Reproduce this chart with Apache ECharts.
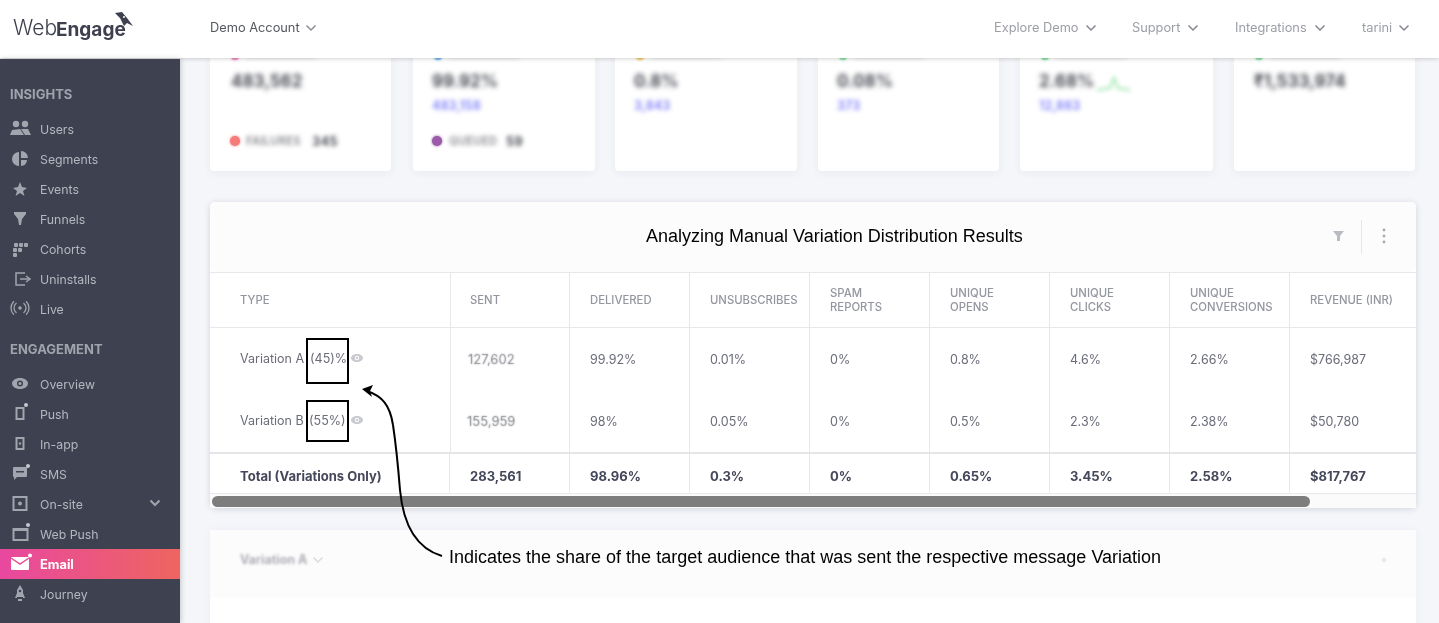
<!DOCTYPE html>
<html>
<head>
<meta charset="utf-8">
<title>Manual Variation Distribution</title>
<style>html,body{margin:0;padding:0;background:#f5f6fa}#main{width:1439px;height:623px}</style>
<script src="https://cdn.jsdelivr.net/npm/echarts@6/dist/echarts.min.js"></script>
</head>
<body>
<div id="main"></div>
<script>
// table data
var columns = [['TYPE'], ['SENT'], ['DELIVERED'], ['UNSUBSCRIBES'], ['SPAM', 'REPORTS'], ['UNIQUE', 'OPENS'], ['UNIQUE', 'CLICKS'], ['UNIQUE', 'CONVERSIONS'], ['REVENUE (INR)']];
var variationA = ['Variation A', '127,602', '99.92%', '0.01%', '0%', '0.8%', '4.6%', '2.66%', '$766,987'];
var variationB = ['Variation B', '155,959', '98%', '0.05%', '0%', '0.5%', '2.3%', '2.38%', '$50,780'];
var totals = ['Total (Variations Only)', '283,561', '98.96%', '0.3%', '0%', '0.65%', '3.45%', '2.58%', '$817,767'];
var shares = ['(45)%', '(55%)'];
var tableTitle = 'Analyzing Manual Variation Distribution Results';
var note = 'Indicates the share of the target audience that was sent the respective message Variation';

// menus
var insightsMenu = ['Users', 'Segments', 'Events', 'Funnels', 'Cohorts', 'Uninstalls', 'Live'];
var engagementMenu = ['Overview', 'Push', 'In-app', 'SMS', 'On-site', 'Web Push', 'Email', 'Journey'];
var topLinks = ['Explore Demo', 'Support', 'Integrations', 'tarini'];

// blurred summary cards
var cardValues = ['483,562', '99.92%', '0.8%', '0.08%', '2.68%', '₹1,533,974'];
var cardLinks = ['', '483,158', '3,843', '373', '12,863', ''];
var cardDots = ['#f48fc0', '#7db8f5', '#f5cf70', '#8fe0a8', '#8fe0a8', '#8fe0a8'];

var SANS = 'Inter, "Noto Sans", sans-serif';
var g = [];

function rect(x, y, w, h, fill, extra) {
    var st = { fill: fill };
    for (var k in (extra || {})) { if (k != 'r') st[k] = extra[k]; }
    g.push({ type: 'rect', shape: { x: x, y: y, width: w, height: h, r: extra && extra.r || 0 }, style: st });
}
function text(x, y, s, fill, font, align) {
    g.push({ type: 'text', style: { x: x, y: y + 1, text: s, fill: fill, font: font + ' ' + SANS, textAlign: align || 'left', verticalAlign: 'middle' } });
}
function arial(x, y, s, size) {
    g.push({ type: 'text', style: { x: x, y: y + 1, text: s, fill: '#000', font: size + 'px "Liberation Sans", Arial, sans-serif', textAlign: 'left', verticalAlign: 'middle' } });
}
// draws only the shadow of a text that sits off screen, which gives the blurred look
function blurred(x, y, s, fill, font, blur) {
    g.push({ type: 'text', style: { x: x - 3000, y: y + 1, text: s, fill: fill, font: font + ' ' + SANS, verticalAlign: 'middle',
        textShadowColor: fill, textShadowBlur: blur, textShadowOffsetX: 3000, textShadowOffsetY: 0 } });
}
function dot(x, y, r, fill, extra) {
    g.push({ type: 'circle', shape: { cx: x, cy: y, r: r }, style: Object.assign({ fill: fill }, extra || {}) });
}
function poly(pts, fill) {
    g.push({ type: 'polygon', shape: { points: pts }, style: { fill: fill } });
}
function stroke(pts, color, w) {
    g.push({ type: 'polyline', shape: { points: pts }, style: { stroke: color, lineWidth: w, fill: null } });
}
function chevron(x, y, color, w) {
    stroke([[x - 4.5, y - 2.5], [x, y + 2], [x + 4.5, y - 2.5]], color, w || 1.5);
}
function curve(a, c1, c2, b, color, w) {
    g.push({ type: 'bezierCurve', shape: { x1: a[0], y1: a[1], cpx1: c1[0], cpy1: c1[1], cpx2: c2[0], cpy2: c2[1], x2: b[0], y2: b[1] }, style: { stroke: color, lineWidth: w, fill: null } });
}
function outline(x, y, w, h, color, lw) {
    g.push({ type: 'rect', shape: { x: x, y: y, width: w, height: h }, style: { fill: null, stroke: color, lineWidth: lw } });
}

/////////////////// summary cards ///////////////////
var cardX = [210, 413, 615, 818, 1020, 1234];
var cardW = [181, 182, 182, 181, 193, 181];
var cardTextX = [231, 432, 634, 837, 1039, 1254];
for (var i = 0; i < cardX.length; i++) {
    rect(cardX[i], 30, cardW[i], 141, '#fff', { r: 4, shadowBlur: 8, shadowColor: 'rgba(40,50,90,0.06)', shadowOffsetY: 2 });
    dot(cardX[i] + 25, 56, 4, cardDots[i], { shadowBlur: 3, shadowColor: cardDots[i] });
    rect(cardX[i] + 36, 55, 70, 3, 'rgba(190,190,195,0.6)', { shadowBlur: 4, shadowColor: '#ccc' });
    blurred(cardTextX[i], 81, cardValues[i], 'rgba(50,52,62,0.95)', 'bold 17px', 5);
    if (cardLinks[i]) blurred(cardTextX[i], 105, cardLinks[i], 'rgba(110,110,250,0.9)', 'bold 12.5px', 4);
}
dot(235, 141, 5, '#f77b7b', { shadowBlur: 3, shadowColor: '#f77b7b' });
blurred(246, 141, 'FAILURES', 'rgba(90,92,100,0.8)', 'bold 11.5px', 4);
blurred(312, 141, '345', 'rgba(60,62,70,0.95)', 'bold 13px', 4);
dot(437, 141, 5, '#9a5aa8', { shadowBlur: 3, shadowColor: '#9a5aa8' });
blurred(449, 141, 'QUEUED', 'rgba(90,92,100,0.8)', 'bold 11.5px', 4);
blurred(506, 141, '59', 'rgba(60,62,70,0.95)', 'bold 13px', 4);
// sparkline next to 2.68%, only its off screen shadow is seen
g.push({ type: 'polyline', shape: { points: [[1097 - 3000, 90], [1104 - 3000, 89], [1110 - 3000, 88], [1114 - 3000, 78], [1118 - 3000, 88], [1124 - 3000, 89], [1130 - 3000, 90]] },
    style: { stroke: 'rgba(100,215,125,0.8)', lineWidth: 2, fill: null, shadowColor: 'rgba(100,215,125,0.8)', shadowBlur: 4, shadowOffsetX: 3000 } });

/////////////////// table card ///////////////////
var colX = [210, 450, 569, 689, 809, 929, 1049, 1169, 1289];
var textX = [240, 470, 590, 710, 830, 950, 1070, 1190, 1310];
rect(210, 202, 1206, 306, '#fff', { r: 5, shadowBlur: 6, shadowColor: 'rgba(40,40,60,0.16)', shadowOffsetY: 1 });
rect(210, 202, 1206, 70, '#fcfcfc', { r: 5 });
arial(646, 236, tableTitle, 18);
poly([[1333, 231], [1344, 231], [1340, 236], [1340, 241], [1337, 241], [1337, 236]], '#b9bbc2');
rect(1361, 220, 1, 34, '#e6e6e8');
dot(1384, 230, 1.4, '#a8aab0'); dot(1384, 236, 1.4, '#a8aab0'); dot(1384, 242, 1.4, '#a8aab0');

rect(210, 272, 1206, 1, '#e8e8ea');
rect(210, 327, 1206, 1, '#e8e8ea');
rect(210, 452, 1206, 2, '#e6e6e8');
rect(210, 493, 1206, 1, '#e8e8ea');
rect(210, 494, 1206, 14, '#fbfbfb');
for (var c = 1; c < colX.length; c++) {
    rect(colX[c], 272, 1, 180, '#e8e8ea');
    rect(c == 1 ? 449 : colX[c], 454, 1, 39, '#e8e8ea');
}
for (var c = 0; c < columns.length; c++) {
    if (columns[c].length == 1) text(textX[c], 300, columns[c][0], '#94969f', '500 11.3px');
    else {
        text(textX[c], 293, columns[c][0], '#94969f', '500 11.3px');
        text(textX[c], 307, columns[c][1], '#94969f', '500 11.3px');
    }
}
var rowColor = '#6a6c78';
text(240, 358, variationA[0], rowColor, '12.5px');
text(240, 420, variationB[0], rowColor, '12.5px');
text(310, 358, shares[0], rowColor, '12.5px');
text(309, 420, shares[1], rowColor, '12.5px');
for (var c = 1; c < colX.length; c++) {
    if (c == 1) {
        blurred(468, 359, variationA[c], 'rgba(90,92,100,0.9)', '13px', 1.4);
        blurred(467, 421, variationB[c], 'rgba(90,92,100,0.9)', '13px', 1.4);
    } else {
        text(textX[c], 359, variationA[c], rowColor, '12.5px');
        text(textX[c], 421, variationB[c], rowColor, '12.5px');
    }
}
for (var c = 0; c < colX.length; c++) {
    text(textX[c], 476, totals[c], '#45475a', 'bold 13px');
}
// eye icons after the shares
[[357, 358], [357, 420]].forEach(function (p) {
    g.push({ type: 'ellipse', shape: { cx: p[0], cy: p[1], rx: 6, ry: 4 }, style: { fill: '#c9cad0' } });
    dot(p[0], p[1], 2.2, '#fff');
    dot(p[0], p[1], 1.2, '#c9cad0');
});
rect(212, 496, 1098, 11, 'rgba(90,90,90,0.78)', { r: 5.5 });

/////////////////// next card (blurred) ///////////////////
rect(210, 530, 1206, 120, '#fff', { shadowBlur: 10, shadowColor: 'rgba(40,50,90,0.04)' });
rect(210, 530, 1206, 68, '#fcfcfc');
blurred(240, 559, 'Variation A', 'rgba(90,92,105,0.7)', 'bold 12.5px', 3);
chevron(318, 560, 'rgba(170,172,180,0.4)', 1.5);
dot(1384, 560, 2, 'rgba(190,190,195,0.3)', { shadowBlur: 4, shadowColor: 'rgba(190,190,195,0.5)' });

/////////////////// annotation ///////////////////
outline(307, 339, 41, 44, '#000', 2);
outline(307, 401, 41, 40, '#000', 2);
curve([442, 556], [415, 548], [403, 522], [400, 490], '#000', 2);
curve([400, 490], [398, 465], [396, 445], [393, 425], '#000', 2);
curve([393, 425], [390, 405], [382, 396], [367, 391], '#000', 2);
poly([[362, 389], [373, 385], [370, 391], [372, 397]], '#000');
arial(449, 557, note, 18);

/////////////////// top bar ///////////////////
rect(0, 0, 1439, 58, '#fff', { shadowBlur: 4, shadowColor: 'rgba(0,0,0,0.18)', shadowOffsetY: 1 });
text(13, 28, 'Web', '#3e4050', '300 21px');
text(56, 29, 'Engage', '#3e4050', 'bold 19px');
poly([[115, 13], [122, 12], [127, 18], [133, 26], [127, 23], [124, 26], [120, 18]], '#3e4050');
dot(124, 17, 1, '#fff');
text(210, 27, 'Demo Account', '#55575f', '12.8px');
chevron(311, 28, '#8b8d94');
var linkX = [994, 1132, 1235, 1362];
var linkChev = [1091, 1193, 1320, 1404];
for (var i = 0; i < topLinks.length; i++) {
    text(linkX[i], 27, topLinks[i], '#9c9ea6', '12.8px');
    chevron(linkChev[i], 28, '#85878e');
}

/////////////////// side bar ///////////////////
var SIDE = '#3e4150', MUTED = '#a0a2ac', ICON = '#a2a4ae';
rect(0, 59, 180, 564, SIDE, { shadowBlur: 5, shadowColor: 'rgba(0,0,0,0.2)', shadowOffsetX: 1 });
text(10, 94, 'INSIGHTS', MUTED, 'bold 13px');
text(10, 349, 'ENGAGEMENT', MUTED, 'bold 13px');
rect(0, 549, 180, 30, { type: 'linear', x: 0, y: 0, x2: 1, y2: 0, colorStops: [{ offset: 0, color: '#e8489f' }, { offset: 1, color: '#ee6560' }] });
var insightsY = [129, 159, 189, 219, 249, 279, 309];
var engagementY = [384, 414, 444, 474, 504, 534, 564, 594];
for (var i = 0; i < insightsMenu.length; i++) text(40, insightsY[i], insightsMenu[i], '#b5b7c0', '12.3px');
for (var i = 0; i < engagementMenu.length; i++) {
    if (engagementMenu[i] == 'Email') text(40, engagementY[i], engagementMenu[i], '#fff', 'bold 12.8px');
    else text(40, engagementY[i], engagementMenu[i], '#b5b7c0', '12.3px');
}
chevron(155, 503, ICON, 2);

// icons, roughly, from primitives
dot(16, 124, 3.2, ICON); dot(25, 124, 3.2, ICON);
poly([[10, 135], [12, 130], [20, 129], [24, 135]], ICON); poly([[21, 129], [28, 129], [31, 135], [25, 135]], ICON);
g.push({ type: 'sector', shape: { cx: 19, cy: 159, r: 7, r0: 0, startAngle: Math.PI / 2, endAngle: Math.PI * 1.5 }, style: { fill: ICON } });
g.push({ type: 'sector', shape: { cx: 21, cy: 158, r: 7, r0: 0, startAngle: -Math.PI / 2, endAngle: 0 }, style: { fill: ICON } });
g.push({ type: 'sector', shape: { cx: 21, cy: 160, r: 6, r0: 0, startAngle: 0, endAngle: Math.PI / 2 }, style: { fill: ICON } });
poly([[20, 182], [22, 187], [27, 188], [23, 191], [24.5, 196], [20, 193], [15.5, 196], [17, 191], [13, 188], [18, 187]], ICON);
poly([[14, 212], [26, 212], [26, 214], [22, 219], [21, 225], [19, 225], [18, 219], [14, 214]], ICON);
[[14, 243], [19, 243], [24, 243], [13, 248], [18, 248], [13, 253]].forEach(function (p) { rect(p[0], p[1], 4, 4, ICON, { r: 1 }); });
stroke([[25, 273], [16, 273], [16, 285], [25, 285]], ICON, 1.5);
stroke([[20, 279], [29, 279]], ICON, 1.5); stroke([[26, 276], [30, 279], [26, 282]], ICON, 1.5);
dot(20, 308, 1.8, ICON);
g.push({ type: 'arc', shape: { cx: 20, cy: 308, r: 6, startAngle: 2.2, endAngle: 4.1, clockwise: true }, style: { stroke: ICON, lineWidth: 1.3, fill: null } });
g.push({ type: 'arc', shape: { cx: 20, cy: 308, r: 9, startAngle: 2.3, endAngle: 4, clockwise: true }, style: { stroke: ICON, lineWidth: 1.3, fill: null } });
g.push({ type: 'arc', shape: { cx: 20, cy: 308, r: 6, startAngle: -0.95, endAngle: 0.95, clockwise: true }, style: { stroke: ICON, lineWidth: 1.3, fill: null } });
g.push({ type: 'arc', shape: { cx: 20, cy: 308, r: 9, startAngle: -0.85, endAngle: 0.85, clockwise: true }, style: { stroke: ICON, lineWidth: 1.3, fill: null } });

g.push({ type: 'ellipse', shape: { cx: 20, cy: 383.5, rx: 8, ry: 5.5 }, style: { fill: ICON } });
dot(20, 383.5, 3, SIDE); dot(20, 383.5, 1.5, ICON);
outline(16.5, 408, 7, 11, ICON, 2); dot(26, 405, 2, '#c5c7cf');
outline(16.5, 438, 7, 11, ICON, 2); dot(20, 443.5, 1.2, ICON);
rect(13, 467, 14, 10, ICON, { r: 1 }); poly([[14, 476], [18, 476], [14, 480]], ICON); rect(16, 471, 8, 1.5, SIDE); dot(28, 466, 2, '#c5c7cf');
outline(13.5, 497, 13, 13, ICON, 2); dot(20, 503.5, 2, ICON);
outline(13.5, 529, 14, 11, ICON, 2); rect(13, 528, 15, 3, ICON); dot(28, 525, 2, '#c5c7cf');
rect(11, 557, 18, 13, '#fff', { r: 1 }); stroke([[11, 558], [20, 564], [29, 558]], '#ea4f94', 1.5); dot(30, 555.5, 2, '#fff');
poly([[20, 585], [23, 590], [23, 597], [17, 597], [17, 590]], ICON); poly([[17, 593], [15, 598], [17, 598]], ICON); poly([[23, 593], [25, 598], [23, 598]], ICON); dot(20, 591, 1.3, SIDE); rect(18, 599, 4, 2, ICON);

var chart = echarts.init(document.getElementById('main'));
chart.setOption({
    backgroundColor: '#f5f6fa',
    animation: false,
    graphic: { elements: g }
});
</script>
</body>
</html>
